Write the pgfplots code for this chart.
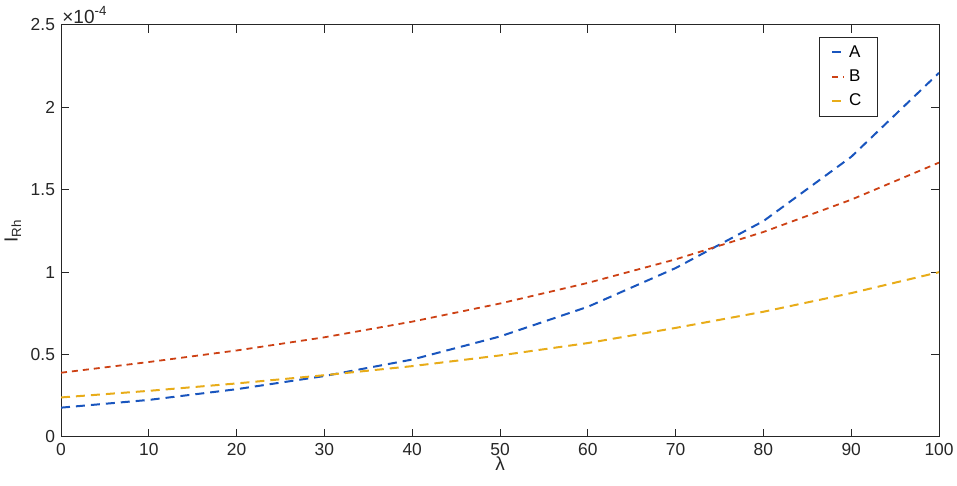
\documentclass[border=0pt]{standalone}
\usepackage{fontspec}
\setmainfont{Liberation Sans}
\usepackage{pgfplots}
\pgfplotsset{compat=1.18}
\definecolor{cA}{RGB}{25,85,190}
\definecolor{cB}{RGB}{205,65,20}
\definecolor{cC}{RGB}{232,172,25}
\definecolor{axgray}{RGB}{38,38,38}
\begin{document}
\fontsize{8.5}{10}\selectfont
\begin{tikzpicture}
\path[use as bounding box] (-30.5pt,-24.5pt) rectangle (448pt,218.5pt);
\begin{axis}[
  name=ax,
  at={(0pt,0pt)}, anchor=south west,
  scale only axis,
  width=439pt, height=206pt,
  xmin=0, xmax=100, ymin=0, ymax=2.5,
  xtick={0,10,...,100},
  ytick={0,0.5,1,1.5,2,2.5},
  yticklabels={0,0.5,1,1.5,2,2.5},
  scaled y ticks=false,
  tick pos=both, tick align=inside,
  major tick length=4pt,
  axis line style={axgray, line width=0.5pt},
  every tick/.style={axgray, line width=0.5pt},
  tick label style={font=\fontsize{8.7}{10}\selectfont, text=axgray},
  /pgf/number format/assume math mode=true,
  xlabel={λ},
  ylabel={I\textsubscript{Rh}},
  label style={font=\fontsize{9.5}{11}\selectfont, text=axgray},
  xlabel style={yshift=5pt},
  ylabel style={yshift=-1pt},
  legend style={at={(0.863,0.971)}, anchor=north west, draw=axgray,
    font=\fontsize{8.5}{10}\selectfont, inner xsep=6pt, inner ysep=2pt,
    row sep=1pt, text=black},
  legend cell align=left,
  legend image code/.code={\draw[#1] (0pt,0pt) -- (6pt,0pt);},
]
\addplot[cA, line width=1pt, dash pattern=on 4.5pt off 3pt] coordinates {
  (0,0.178) (10,0.225) (20,0.29) (30,0.37) (40,0.47) (50,0.61)
  (60,0.79) (70,1.025) (80,1.31) (90,1.70) (100,2.21)
};
\addlegendentry{A}
\addplot[cB, line width=0.9pt, dash pattern=on 3pt off 2.5pt] coordinates {
  (0,0.39) (10,0.455) (20,0.525) (30,0.605) (40,0.70) (50,0.81)
  (60,0.935) (70,1.078) (80,1.244) (90,1.44) (100,1.665)
};
\addlegendentry{B}
\addplot[cC, line width=1pt, dash pattern=on 4.5pt off 3pt] coordinates {
  (0,0.24) (10,0.28) (20,0.325) (30,0.375) (40,0.43) (50,0.495)
  (60,0.57) (70,0.662) (80,0.76) (90,0.873) (100,1.0)
};
\addlegendentry{C}
\end{axis}
\node[anchor=south west, inner sep=0.5pt, text=axgray, font=\fontsize{9.5}{10}\selectfont]
  at (ax.north west) {×10\textsuperscript{-4}};
\end{tikzpicture}
\end{document}
